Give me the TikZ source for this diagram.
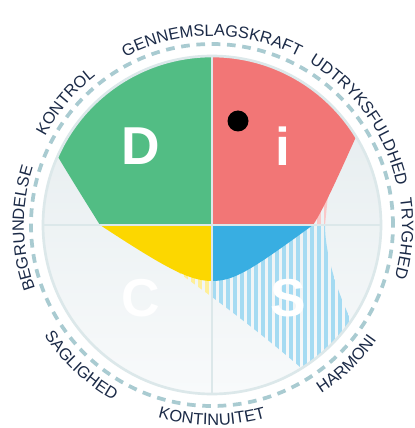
\documentclass[tikz,border=0pt]{standalone}
\usepackage{fontspec}
\setmainfont{Liberation Sans}
\usetikzlibrary{decorations.text}

\definecolor{discD}{HTML}{52BD84}
\definecolor{discI}{HTML}{F27676}
\definecolor{discS}{HTML}{38AEE2}
\definecolor{discC}{HTML}{FCD700}
\definecolor{ringline}{HTML}{A9CBD1}
\definecolor{crossline}{HTML}{DCE8EA}
\definecolor{labeltext}{HTML}{1B2A47}
\definecolor{bgtop}{HTML}{E3EBED}
\definecolor{bgbottom}{HTML}{F8FAFB}

\newcommand{\labelfont}{\fontsize{12.3}{12.3}\selectfont}
\newcommand{\discblob}{(31.5:169) arc[start angle=31.5, end angle=156, radius=169]
  .. controls (-142,48) and (-122,16) .. (-112,0)
  .. controls (-45,-44) and (-22,-56) .. (0,-56)
  .. controls (22,-56) and (38,-46) .. (101,0)
  .. controls (112,16) and (132,62) .. (31.5:169) -- cycle}
\newcommand{\hatcharea}{(-60,0) -- (-37,-45) -- (0,-72)
  .. controls (35,-98) and (65,-122) .. (-58:169)
  arc[start angle=-58, end angle=-34.5, radius=169]
  .. controls (122,-60) and (113,-25) .. (113,0) -- (116,30) -- (0,30) -- cycle}

\tikzset{
  quadletter/.style={white, font=\fontsize{40}{40}\selectfont\bfseries},
  cwlabel/.style={decorate, decoration={text along path, text align=center, text color=labeltext, text={|\labelfont|#1}}},
}

\begin{document}
\begin{tikzpicture}[x=0.75pt, y=0.75pt]
\useasboundingbox[fill=white] (-212,-203) rectangle (202,225);

\shade[top color=bgtop, bottom color=bgbottom] (0,0) circle[radius=169];

\begin{scope}
\clip \hatcharea;
\begin{scope}
\clip (-200,-200) rectangle (0,0);
\foreach \x in {-70,-63,...,0}
  \fill[discC!40] (\x,-200) rectangle (\x+3.5,0);
\end{scope}
\begin{scope}
\clip (0,-200) rectangle (200,0);
\foreach \x in {0,7,...,140}
  \fill[discS!45] (\x,-200) rectangle (\x+3.5,0);
\end{scope}
\begin{scope}
\clip (0,0) rectangle (200,200);
\foreach \x in {0,7,...,140}
  \fill[discI!40] (\x,0) rectangle (\x+3.5,200);
\end{scope}
\end{scope}

\begin{scope}
\clip \discblob;
\fill[discD] (-200,0) rectangle (0,200);
\fill[discI] (0,0) rectangle (200,200);
\fill[discC] (-200,-200) rectangle (0,0);
\fill[discS] (0,-200) rectangle (200,0);
\end{scope}

\draw[crossline, line width=2] (0,-169) -- (0,169);
\draw[crossline, line width=2] (-169,0) -- (169,0);
\draw[crossline, line width=2] (0,0) circle[radius=169];
\draw[ringline, line width=2.8, dash pattern=on 6.5 off 5] (0,0) circle[radius=181];

\node[quadletter] (letterD) at (-71,79) {D};
\node[quadletter] (letterI) at (71,79) {i};
\node[quadletter] (letterC) at (-71,-73) {C};
\node[quadletter] (letterS) at (76,-73) {S};
\fill[black] (26,104) circle[radius=10.5];

\path[cwlabel=GENNEMSLAGSKRAFT] (160:189) arc[start angle=160, end angle=20, radius=189];
\path[cwlabel=UDTRYKSFULDHED] (105.5:189) arc[start angle=105.5, end angle=-34.5, radius=189];
\path[cwlabel=TRYGHED] (66:190) arc[start angle=66, end angle=-74, radius=190];
\path[cwlabel=BEGRUNDELSE] (251:188) arc[start angle=251, end angle=111, radius=188];
\path[cwlabel=KONTROL] (210:189) arc[start angle=210, end angle=70, radius=189];
\path[cwlabel=HARMONI] (-116:201) arc[start angle=-116, end angle=24, radius=201];
\path[cwlabel=KONTINUITET] (-160:200) arc[start angle=-160, end angle=-20, radius=200];
\path[cwlabel=SAGLIGHED] (-203:201) arc[start angle=-203, end angle=-63, radius=201];
\end{tikzpicture}
\end{document}
